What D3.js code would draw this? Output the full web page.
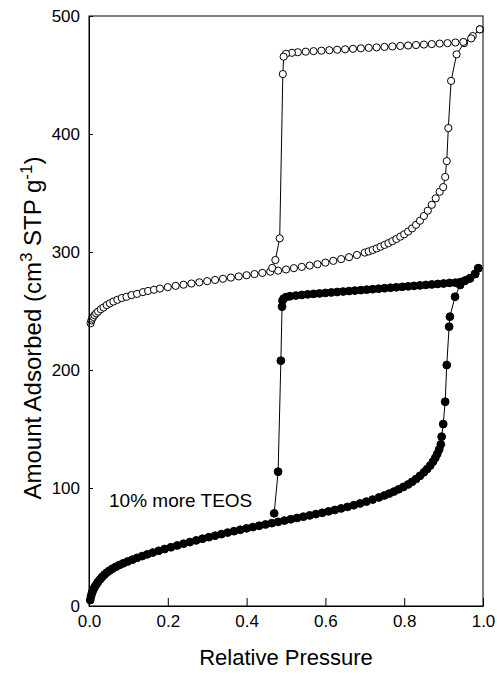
<!DOCTYPE html>
<html>
<head>
  <meta charset="utf-8">
<style>
  body { margin: 0; background: #fff; }
  svg { display: block; font-family: Arial, "Liberation Sans", sans-serif; }
</style>
<script src="https://d3js.org/d3.v7.min.js"></script>
<script>

  // open circles (upper isotherm), adsorption branch
  var openAdsP = [0.004, 0.006, 0.008, 0.011, 0.014, 0.018, 0.023, 0.03, 0.037, 0.045, 0.053, 0.062, 0.072, 0.083, 0.095, 0.108, 0.122, 0.137, 0.15, 0.165, 0.18, 0.2, 0.22, 0.24, 0.26, 0.28, 0.3, 0.32, 0.34, 0.36, 0.38, 0.4, 0.42, 0.44, 0.46, 0.48, 0.5, 0.52, 0.54, 0.56, 0.58, 0.6, 0.62, 0.64, 0.66, 0.68, 0.7, 0.71, 0.72, 0.73, 0.74, 0.75, 0.76, 0.77, 0.78, 0.79, 0.8, 0.81, 0.82, 0.83, 0.84, 0.85, 0.86, 0.87, 0.88, 0.89, 0.899, 0.904, 0.908, 0.912, 0.919, 0.933, 0.952, 0.974, 0.992];
  var openAdsV = [239.6, 242, 243.5, 245, 246.5, 248, 249.5, 251.5, 253, 255, 256.5, 258, 259.5, 261, 262, 263.5, 264.5, 266, 267, 268, 269, 270.2, 271.3, 272.3, 273.3, 274.3, 275.3, 276.3, 277.3, 278.3, 279.3, 280.3, 281.3, 282.3, 283.3, 284.2, 285.2, 286.3, 287.4, 288.5, 289.6, 291, 292.5, 294, 295.6, 297.5, 299.5, 300.5, 301.7, 303, 304.5, 306, 307.5, 309.2, 311, 313, 315, 317.3, 320, 323, 326.5, 330.5, 335, 340, 345.5, 351, 355, 363.6, 377, 405, 445, 467.5, 477, 483, 488.7];

  // open circles, desorption branch
  var openDesP = [0.992, 0.97, 0.95, 0.93, 0.91, 0.89, 0.87, 0.85, 0.83, 0.81, 0.79, 0.77, 0.75, 0.73, 0.71, 0.69, 0.67, 0.65, 0.63, 0.61, 0.59, 0.57, 0.55, 0.53, 0.515, 0.5, 0.494, 0.492, 0.484, 0.473, 0.465];
  var openDesV = [488.7, 481, 478, 477.5, 477, 476.6, 476.2, 475.8, 475.4, 475, 474.6, 474.2, 473.8, 473.4, 473, 472.6, 472.2, 471.8, 471.4, 471, 470.6, 470.2, 469.8, 469.3, 468.8, 468, 465.5, 450.8, 311.6, 293.2, 286.5];

  // filled circles (lower isotherm), adsorption branch
  var fillAdsP = [0.003, 0.005, 0.007, 0.009, 0.012, 0.015, 0.019, 0.023, 0.028, 0.033, 0.039, 0.045, 0.052, 0.06, 0.068, 0.077, 0.087, 0.098, 0.11, 0.122, 0.135, 0.148, 0.162, 0.177, 0.192, 0.208, 0.224, 0.24, 0.256, 0.272, 0.288, 0.304, 0.32, 0.336, 0.352, 0.368, 0.384, 0.4, 0.416, 0.432, 0.448, 0.464, 0.48, 0.496, 0.512, 0.528, 0.544, 0.56, 0.576, 0.592, 0.608, 0.624, 0.64, 0.656, 0.672, 0.688, 0.704, 0.72, 0.736, 0.75, 0.762, 0.774, 0.786, 0.798, 0.81, 0.82, 0.83, 0.84, 0.85, 0.858, 0.866, 0.873, 0.879, 0.884, 0.889, 0.893, 0.895, 0.899, 0.904, 0.908, 0.914, 0.916, 0.929, 0.942, 0.954, 0.967, 0.98, 0.988];
  var fillAdsV = [5, 8, 10.5, 12.5, 14.5, 16.5, 18.5, 20.5, 22.5, 24.5, 26.5, 28.3, 30, 31.7, 33.2, 34.7, 36.2, 37.7, 39.3, 40.8, 42.3, 43.8, 45.3, 46.8, 48.3, 49.8, 51.3, 52.8, 54.2, 55.6, 57, 58.3, 59.6, 60.9, 62.2, 63.4, 64.6, 65.8, 66.9, 68, 69.1, 70.2, 71.3, 72.4, 73.5, 74.6, 75.7, 76.8, 77.9, 79, 80.2, 81.4, 82.7, 84, 85.4, 86.9, 88.5, 90.2, 92, 93.7, 95.3, 97, 98.9, 100.9, 103, 105.2, 107.6, 110.3, 113.3, 116, 119, 122.3, 125.6, 129, 132.8, 137, 143.5, 154.2, 173.1, 204.2, 236.7, 245.2, 262.1, 272, 275.7, 277.7, 281.4, 286.2];

  // filled circles, desorption branch
  var fillDesP = [0.988, 0.98, 0.967, 0.954, 0.942, 0.93, 0.915, 0.9, 0.885, 0.87, 0.855, 0.84, 0.825, 0.81, 0.795, 0.78, 0.765, 0.75, 0.735, 0.72, 0.705, 0.69, 0.675, 0.66, 0.645, 0.63, 0.615, 0.6, 0.585, 0.57, 0.555, 0.54, 0.525, 0.51, 0.5, 0.494, 0.491, 0.49, 0.487, 0.48, 0.47];
  var fillDesV = [286.2, 281.4, 277.7, 275.7, 274.5, 274, 273.8, 273.3, 272.9, 272.5, 272.1, 271.7, 271.3, 270.9, 270.5, 270.1, 269.7, 269.3, 268.9, 268.5, 268.1, 267.7, 267.3, 266.9, 266.5, 266.1, 265.7, 265.3, 264.9, 264.5, 264.1, 263.6, 263.1, 262.5, 261.8, 260.5, 258.8, 253.7, 207.9, 113.8, 78.5];

  var xTicks = [0, 0.2, 0.4, 0.6, 0.8, 1.0];
  var yTicks = [0, 100, 200, 300, 400, 500];

  function pairs(ps, vs) {
    return ps.map(function(p, i) { return {p: p, v: vs[i]}; });
  }

  function draw() {
    var svg = d3.select("svg"),
        margin = {top: 16, right: 14, bottom: 69, left: 89},
        width = +svg.attr("width") - margin.left - margin.right,
        height = +svg.attr("height") - margin.top - margin.bottom,
        g = svg.append("g").attr("transform", "translate(" + margin.left + "," + margin.top + ")");

    var x = d3.scaleLinear().domain([0, 1]).range([0, width]);
    var y = d3.scaleLinear().domain([0, 500]).range([height, 0]);

    var line = d3.line()
        .x(function(d) { return x(d.p); })
        .y(function(d) { return y(d.v); });

    var series = [
      {data: pairs(openAdsP, openAdsV), fill: "#fff", r: 3.6},
      {data: pairs(openDesP, openDesV), fill: "#fff", r: 3.6},
      {data: pairs(fillAdsP, fillAdsV), fill: "#000", r: 3.9},
      {data: pairs(fillDesP, fillDesV), fill: "#000", r: 3.9}
    ];

    series.forEach(function(s) {
      g.append("path")
          .datum(s.data)
          .attr("fill", "none")
          .attr("stroke", "#000")
          .attr("stroke-width", 1)
          .attr("d", line);
    });

    series.forEach(function(s) {
      g.append("g").selectAll("circle")
          .data(s.data)
        .enter().append("circle")
          .attr("cx", function(d) { return x(d.p); })
          .attr("cy", function(d) { return y(d.v); })
          .attr("r", s.r)
          .attr("fill", s.fill)
          .attr("stroke", "#000")
          .attr("stroke-width", 1);
    });

    // frame
    g.append("rect")
        .attr("width", width)
        .attr("height", height)
        .attr("fill", "none")
        .attr("stroke", "#000")
        .attr("stroke-width", 1);

    var xAxis = g.append("g")
        .attr("transform", "translate(0," + height + ")")
        .call(d3.axisBottom(x).tickValues(xTicks).tickFormat(d3.format(".1f"))
          .tickSizeInner(-8).tickSizeOuter(0).tickPadding(9));

    var yAxis = g.append("g")
        .call(d3.axisLeft(y).tickValues(yTicks).tickFormat(d3.format("d"))
          .tickSizeInner(-4).tickSizeOuter(0).tickPadding(9));

    [xAxis, yAxis].forEach(function(a) {
      a.attr("font-family", null).attr("font-size", 17);
      a.selectAll("text").attr("fill", "#000");
      a.selectAll("line, path").attr("stroke", "#000");
    });

    svg.append("text")
        .attr("x", 286)
        .attr("y", 665)
        .attr("text-anchor", "middle")
        .attr("font-size", 22)
        .text("Relative Pressure");

    var yTitle = svg.append("text")
        .attr("transform", "translate(41,328) rotate(-90)")
        .attr("text-anchor", "middle")
        .attr("font-size", 24);
    yTitle.append("tspan").text("Amount Adsorbed (cm");
    yTitle.append("tspan").attr("dy", -9).attr("font-size", 17).text("3");
    yTitle.append("tspan").attr("dy", 9).text(" STP g");
    yTitle.append("tspan").attr("dy", -9).attr("font-size", 17).text("-1");
    yTitle.append("tspan").attr("dy", 9).text(")");

    svg.append("text")
        .attr("x", 109)
        .attr("y", 507)
        .attr("font-size", 19)
        .text("10% more TEOS");
  }

  window.onload = draw;

</script>
</head>

<body>
  <svg width="497" height="675"></svg>
</body>
</html>
